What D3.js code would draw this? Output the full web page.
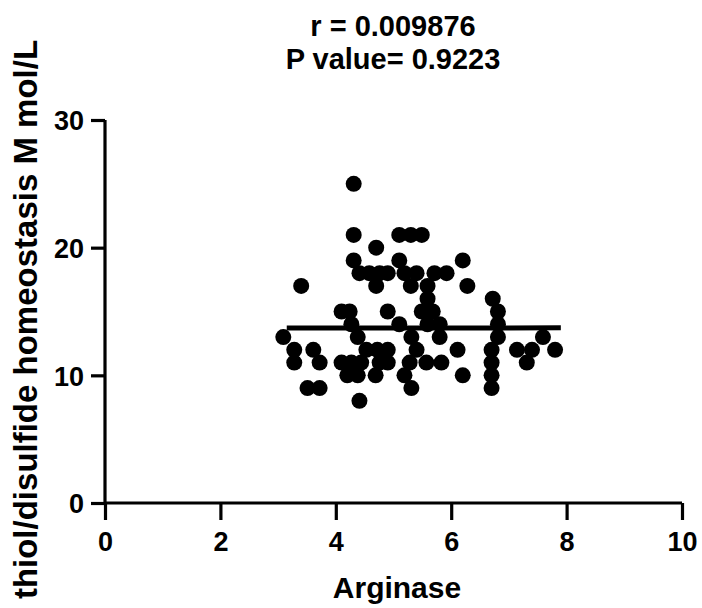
<!DOCTYPE html>
<html>
<head>
<meta charset="utf-8">
<script src="https://cdn.jsdelivr.net/npm/d3@7"></script>
<style>
  body { margin: 0; background: #fff; }
  svg { display: block; font-family: "Liberation Sans", Arial, sans-serif; font-weight: bold; }
</style>
</head>
<body>
<svg id="chart"></svg>
<script>
// Arginase (x) and thiol/disulfide homeostasis (y)
const arginase = [
  4.31,
  4.31, 5.10, 5.30, 5.49,
  4.70,
  4.31, 5.10, 6.20,
  4.41, 4.58, 4.76, 4.90, 5.19, 5.40, 5.71, 5.92,
  3.40, 4.70, 5.30, 5.59, 6.28,
  5.59, 6.72,
  4.10, 4.24, 4.90, 5.49, 5.68, 6.81,
  4.27, 5.10, 5.59, 5.80, 6.81,
  3.09, 4.38, 5.31, 5.80, 6.81, 7.59,
  3.28, 3.61, 4.53, 4.72, 4.90, 5.40, 6.11, 6.70, 7.14, 7.40, 7.80,
  3.28, 3.72, 4.10, 4.27, 4.44, 4.76, 4.90, 5.28, 5.57, 5.83, 6.70, 7.31,
  4.20, 4.38, 4.69, 5.19, 6.20, 6.70,
  3.51, 3.72, 5.31, 6.70,
  4.41
];
const thiol = [
  25,
  21, 21, 21, 21,
  20,
  19, 19, 19,
  18, 18, 18, 18, 18, 18, 18, 18,
  17, 17, 17, 17, 17,
  16, 16,
  15, 15, 15, 15, 15, 15,
  14, 14, 14, 14, 14,
  13, 13, 13, 13, 13, 13,
  12, 12, 12, 12, 12, 12, 12, 12, 12, 12, 12,
  11, 11, 11, 11, 11, 11, 11, 11, 11, 11, 11, 11,
  10, 10, 10, 10, 10, 10,
  9, 9, 9, 9,
  8
];

// fitted line (nearly flat, r = 0.009876)
const fitX = [3.15, 7.9];
const fitY = [13.7, 13.72];

const xTicks = [0, 2, 4, 6, 8, 10];
const yTicks = [0, 10, 20, 30];
const titleLines = ["r = 0.009876", "P value= 0.9223"];

const W = 702, H = 608;
const svg = d3.select("#chart").attr("width", W).attr("height", H);

const x = d3.scaleLinear().domain([0, 10]).range([105, 682]);
const y = d3.scaleLinear().domain([0, 30]).range([503, 120]);

// axes
const xAxis = svg.append("g")
  .attr("transform", `translate(0,${y(0)})`)
  .call(d3.axisBottom(x).tickValues(xTicks).tickSize(17).tickPadding(12).tickFormat(d3.format("d")));
const yAxis = svg.append("g")
  .attr("transform", `translate(${x(0)},0)`)
  .call(d3.axisLeft(y).tickValues(yTicks).tickSize(14).tickPadding(7).tickFormat(d3.format("d")));

[xAxis, yAxis].forEach(g => {
  g.attr("font-size", null).attr("font-family", null);
  g.select(".domain").attr("stroke", "#000").attr("stroke-width", 3.2);
  g.selectAll(".tick line").attr("stroke", "#000").attr("stroke-width", 3.2);
  g.selectAll(".tick text")
    .attr("fill", "#000")
    .style("font-size", "27px")
    .style("font-weight", "bold");
});
xAxis.selectAll(".tick text").attr("dy", "0.71em");
yAxis.selectAll(".tick text").attr("dy", "0.36em");

// domain lines without outer ticks so the axes cross like the original
xAxis.select(".domain").attr("d", `M${x(0)},0H${x(10)}`);
yAxis.select(".domain").attr("d", `M0,${y(30)}V${y(0)}`);

// points
const pts = arginase.map((a, i) => ({ a, t: thiol[i] }));
svg.append("g").selectAll("circle")
  .data(pts)
  .enter().append("circle")
  .attr("cx", d => x(d.a))
  .attr("cy", d => y(d.t))
  .attr("r", 8)
  .attr("fill", "#000");

// fit line
svg.append("line")
  .attr("x1", x(fitX[0])).attr("y1", y(fitY[0]))
  .attr("x2", x(fitX[1])).attr("y2", y(fitY[1]))
  .attr("stroke", "#000")
  .attr("stroke-width", 5);

// title
svg.append("g").selectAll("text")
  .data(titleLines)
  .enter().append("text")
  .attr("x", 393)
  .attr("y", (d, i) => 36 + i * 33)
  .attr("text-anchor", "middle")
  .style("font-size", "29px")
  .text(d => d);

// axis titles
svg.append("text")
  .attr("x", 397)
  .attr("y", 598)
  .attr("text-anchor", "middle")
  .style("font-size", "30px")
  .text("Arginase");

svg.append("text")
  .attr("transform", `translate(37,${(y(0) + y(30)) / 2 + 8}) rotate(-90)`)
  .attr("text-anchor", "middle")
  .style("font-size", "33px")
  .text("thiol/disulfide homeostasis M mol/L");
</script>
</body>
</html>
